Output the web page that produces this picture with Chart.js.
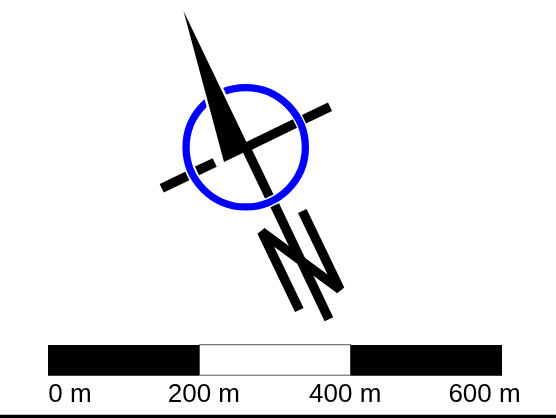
<!DOCTYPE html>
<html>
<head>
<meta charset="utf-8">
<style>html,body{margin:0;padding:0;background:#fff}canvas{display:block}</style>
<script src="https://cdn.jsdelivr.net/npm/chart.js@4/dist/chart.umd.min.js"></script>
</head>
<body>
<canvas id="c" width="556" height="418"></canvas>
<script>
// Scale bar (metres) and its labels
const scaleStops = [0, 200, 400, 600];
const scaleLabels = ['0 m', '200 m', '400 m', '600 m'];
const scaleLabelAnchors = [29.1, 206, 392.8, 576.9];
const barTop = [345];
const barBottom = [375.7];
// North arrow, in drawing units of the symbol
const needle = [[183.5, 11], [224, 162], [250, 149.5]];
const ringCentre = [[245.7, 147.3]];
const crossWestOuter = [[161.7, 188.3], [187.3, 176]];
const crossWestInner = [[197, 170.9], [214.7, 162.5]];
const crossEastInner = [[245.7, 147.5], [295, 123.6]];
const crossEastOuter = [[304, 119.2], [330, 106.7]];
const axisInner = [[245.7, 147.3], [269.3, 196.5]];
const axisOuter = [[274.7, 205.3], [328.9, 319.3]];
const letterN = [[299.3, 310], [261.7, 231.7], [340, 289.5], [302.3, 211]];
const baseRule = [[0, 416.4], [556, 416.4]];

const pts = a => a.map(p => ({x: p[0], y: p[1]}));
const barPts = (i, t, b) => [
  {x: scaleStops[i], y: t}, {x: scaleStops[i + 1], y: t},
  {x: scaleStops[i + 1], y: b}, {x: scaleStops[i], y: b}, {x: scaleStops[i], y: t}
];
const stroke = (a, w = 9.5, color = '#000', extra = {}) => Object.assign({
  data: pts(a), showLine: true, pointRadius: 0, borderColor: color, borderWidth: w,
  borderCapStyle: 'butt', borderJoinStyle: 'miter', fill: false, xAxisID: 'x', yAxisID: 'y'
}, extra);
const poly = (data, fillColor, borderColor, w, xAxisID) => ({
  data, showLine: true, pointRadius: 0, backgroundColor: fillColor, borderColor, borderWidth: w,
  fill: 'shape', xAxisID, yAxisID: 'y', borderJoinStyle: 'miter'
});
const closed = a => pts(a.concat([a[0]]));

new Chart(document.getElementById('c'), {
  type: 'scatter',
  data: {
    datasets: [
      // first dataset is painted last
      poly(closed(needle), '#000', '#000', 0, 'x'),
      stroke(crossWestOuter), stroke(crossWestInner), stroke(crossEastInner), stroke(crossEastOuter),
      stroke(axisInner), stroke(axisOuter), stroke(letterN, 9.5, '#000', {borderJoinStyle: 'bevel'}),
      poly(closed(needle), '#fff', '#fff', 5, 'x'),
      {
        data: pts(ringCentre), xAxisID: 'x', yAxisID: 'y', showLine: false,
        pointStyle: 'circle', pointRadius: 59.65, pointBorderWidth: 7.3,
        pointBorderColor: '#0000ff', pointBackgroundColor: 'rgba(0,0,0,0)'
      },
      poly(barPts(0, barTop[0], barBottom[0]), '#000', '#000', 0, 'metres'),
      poly(barPts(2, barTop[0], barBottom[0]), '#000', '#000', 0, 'metres'),
      poly(barPts(1, barTop[0] - 0.3, barBottom[0] - 0.5), '#fff', '#555', 1, 'metres'),
      stroke(baseRule, 3.3)
    ]
  },
  options: {
    responsive: false,
    animation: false,
    layout: {padding: 0, autoPadding: false},
    plugins: {legend: {display: false}, tooltip: {enabled: false}},
    scales: {
      x: {type: 'linear', min: 0, max: 556, display: false},
      y: {type: 'linear', min: 0, max: 418, reverse: true, display: false},
      metres: {
        type: 'linear', axis: 'x', min: -63.44, max: 671.37,
        position: {y: 368.5},
        border: {display: false},
        grid: {display: false},
        afterBuildTicks: s => { s.ticks = scaleLabelAnchors.map(v => ({value: v})); },
        ticks: {
          autoSkip: false, maxRotation: 0, minRotation: 0, padding: 3,
          color: '#000',
          font: {family: '"Liberation Sans"', size: 26},
          callback: (v, i) => scaleLabels[i]
        }
      }
    }
  }
});
</script>
</body>
</html>
